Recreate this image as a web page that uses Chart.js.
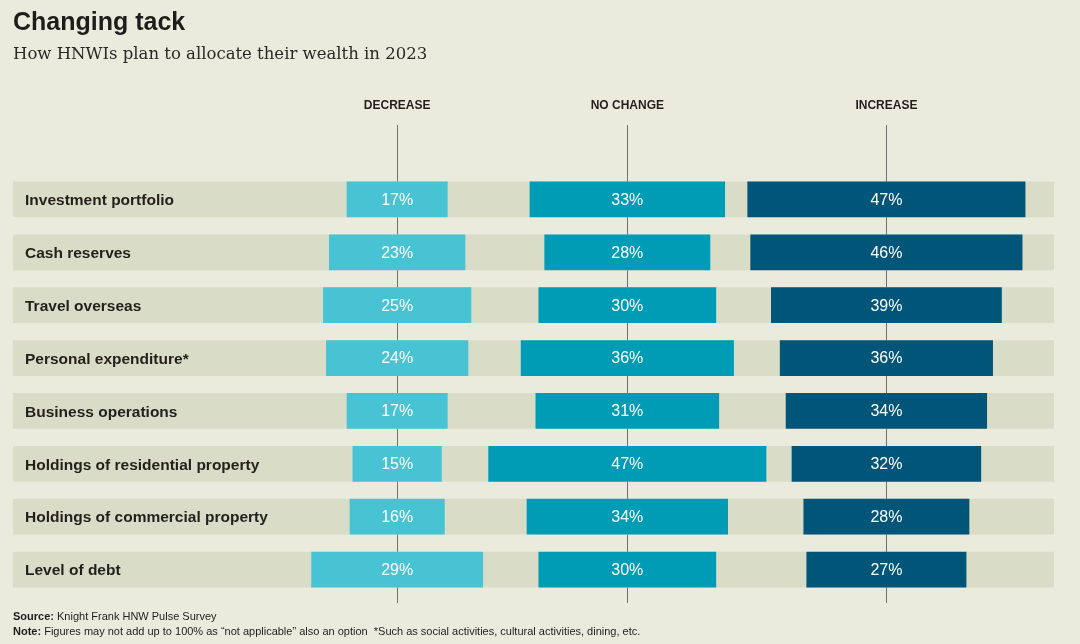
<!DOCTYPE html>
<html>
<head>
<meta charset="utf-8">
<script src="https://cdn.jsdelivr.net/npm/chart.js@4.4.1/dist/chart.umd.min.js"></script>
<style>
  html, body { margin: 0; padding: 0; background: #ebebdd; }
  #wrap { position: relative; width: 1080px; height: 644px; overflow: hidden; background: #ebebdd; }
  canvas { position: absolute; left: 0; top: 0; }
  .t { position: absolute; left: 13px; white-space: nowrap; color: #1f1d1b; }
  #title { top: 9px; font: bold 25px/25px "Liberation Sans", Arial, sans-serif; }
  #subtitle { top: 46px; font: 16.5px/16px "DejaVu Serif", serif; color: #2a2826; }
  #source { top: 611px; font: 11px/11px "Liberation Sans", Arial, sans-serif; }
  #note { top: 626px; font: 11px/11px "Liberation Sans", Arial, sans-serif; }
</style>
</head>
<body>
<div id="wrap">
  <canvas id="c" width="1080" height="644"></canvas>
  <div class="t" id="title">Changing tack</div>
  <div class="t" id="subtitle">How HNWIs plan to allocate their wealth in 2023</div>
  <div class="t" id="source"><b>Source:</b> Knight Frank HNW Pulse Survey</div>
  <div class="t" id="note"><b>Note:</b> Figures may not add up to 100% as “not applicable” also an option&nbsp; *Such as social activities, cultural activities, dining, etc.</div>
</div>
<script>
// ---- data ----
const categories = [
  "Investment portfolio",
  "Cash reserves",
  "Travel overseas",
  "Personal expenditure*",
  "Business operations",
  "Holdings of residential property",
  "Holdings of commercial property",
  "Level of debt"
];
const columnLabels = ["DECREASE", "NO CHANGE", "INCREASE"];
const decrease = [17, 23, 25, 24, 17, 15, 16, 29];
const noChange = [33, 28, 30, 36, 31, 47, 34, 30];
const increase = [47, 46, 39, 36, 34, 32, 28, 27];

// ---- layout (scale units = percentage points) ----
const X_MAX = 176.4;
const CENTERS = [65.1, 104.1, 148.0];
const COLORS = ["#48c3d3", "#009bb4", "#005578"];
const BAND = "#d9dcc6";

const seriesList = [decrease, noChange, increase];
const floating = (vals, c) => vals.map(v => [c - v / 2, c + v / 2]);

const datasets = seriesList.map((vals, i) => ({
  label: columnLabels[i],
  data: floating(vals, CENTERS[i]),
  values: vals,
  backgroundColor: COLORS[i],
  borderWidth: 0,
  grouped: false,
  order: 1,
  barThickness: 35
}));
datasets.push({
  label: "band",
  data: categories.map(() => [0, X_MAX]),
  backgroundColor: BAND,
  borderWidth: 0,
  grouped: false,
  order: 10,
  barThickness: 35
});

const decor = {
  id: "decor",
  beforeDatasetsDraw(chart) {
    const ctx = chart.ctx, xs = chart.scales.x;
    ctx.save();
    ctx.strokeStyle = "#707070";
    ctx.lineWidth = 1;
    CENTERS.forEach(c => {
      const x = Math.round(xs.getPixelForValue(c)) + 0.5;
      ctx.beginPath();
      ctx.moveTo(x, 125);
      ctx.lineTo(x, 603);
      ctx.stroke();
    });
    ctx.fillStyle = "#231f1c";
    ctx.font = "bold 12px 'Liberation Sans', Arial, sans-serif";
    ctx.textAlign = "center";
    ctx.textBaseline = "middle";
    CENTERS.forEach((c, i) => {
      ctx.fillText(columnLabels[i], xs.getPixelForValue(c), 106);
    });
    ctx.restore();
  },
  afterDatasetsDraw(chart) {
    const ctx = chart.ctx, xs = chart.scales.x, ys = chart.scales.y;
    ctx.save();
    ctx.textBaseline = "middle";
    // category labels inside the bands
    ctx.fillStyle = "#231f1c";
    ctx.font = "bold 15.5px 'Liberation Sans', Arial, sans-serif";
    ctx.textAlign = "left";
    categories.forEach((name, j) => {
      ctx.fillText(name, xs.left + 12, ys.getPixelForValue(j) + 1.5);
    });
    // value labels
    ctx.fillStyle = "#ffffff";
    ctx.font = "16px 'Liberation Sans', Arial, sans-serif";
    ctx.textAlign = "center";
    for (let d = 0; d < 3; d++) {
      const meta = chart.getDatasetMeta(d);
      meta.data.forEach((el, j) => {
        const cx = (el.x + el.base) / 2;
        ctx.fillText(chart.data.datasets[d].values[j] + "%", cx, el.y + 1);
      });
    }
    ctx.restore();
  }
};

new Chart(document.getElementById("c"), {
  type: "bar",
  data: { labels: categories, datasets },
  options: {
    indexAxis: "y",
    responsive: false,
    animation: false,
    layout: { padding: { left: 13, right: 26, top: 173, bottom: 48 } },
    plugins: { legend: { display: false }, tooltip: { enabled: false } },
    scales: {
      x: { display: false, min: 0, max: X_MAX },
      y: { display: false }
    }
  },
  plugins: [decor]
});
</script>
</body>
</html>
